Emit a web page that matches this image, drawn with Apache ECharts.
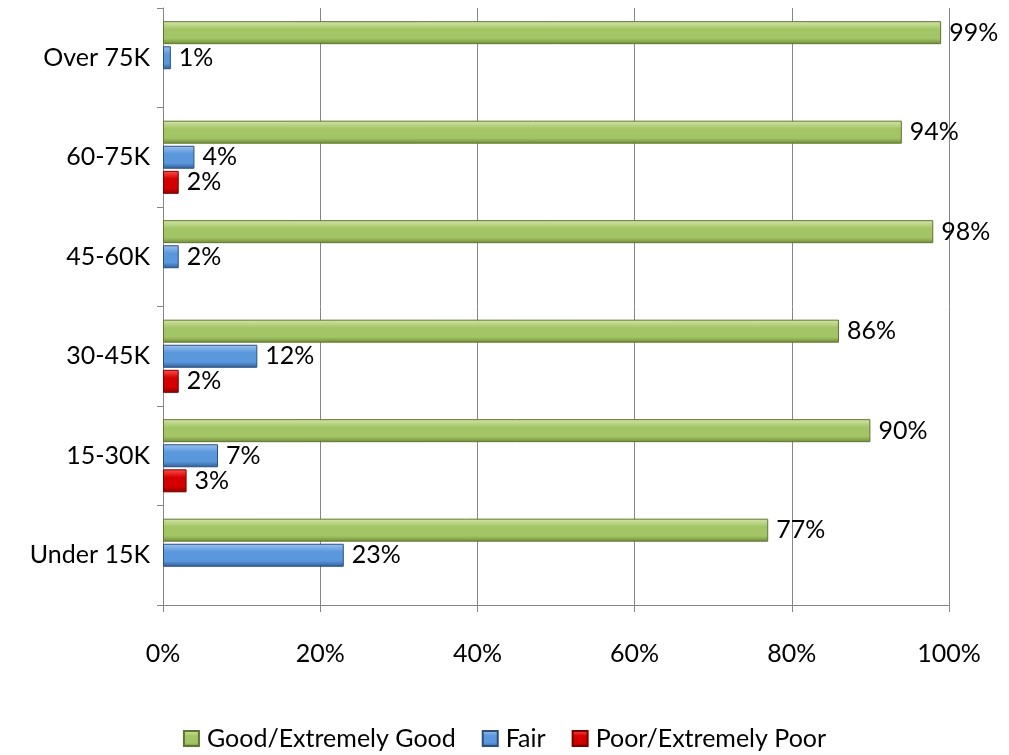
<!DOCTYPE html>
<html><head><meta charset="utf-8">
<script src="https://cdn.jsdelivr.net/npm/echarts@6/dist/echarts.min.js"></script>
<style>html,body{margin:0;padding:0;background:#fff}#c{width:1009px;height:755px}</style>
</head><body><div id="c"></div>
<script>
const categories = ['Under 15K', '15-30K', '30-45K', '45-60K', '60-75K', 'Over 75K'];
const goodValues = [77, 90, 86, 98, 94, 99];
const fairValues = [23, 7, 12, 2, 4, 1];
const poorValues = [null, 3, 2, null, 2, null];
const xTicks = [0, 20, 40, 60, 80, 100];

const FONT = 'Lato, "Open Sans", sans-serif';
const FS = 25;
function grad(top, mid, bot) {
  return new echarts.graphic.LinearGradient(0, 0, 0, 1, [
    {offset: 0, color: top}, {offset: 0.35, color: mid}, {offset: 0.75, color: mid}, {offset: 1, color: bot}
  ]);
}
const label = {show: true, position: 'right', distance: 8, formatter: p => p.value + '%', fontSize: FS, color: '#000', fontFamily: FONT};
const chart = echarts.init(document.getElementById('c'));
chart.setOption({
  animation: false,
  grid: {left: 163, right: 60, top: 8, bottom: 150, containLabel: false},
  legend: {
    top: 721, left: 'center', itemWidth: 15, itemHeight: 15, itemGap: 26, icon: 'rect',
    textStyle: {fontSize: 25, fontFamily: FONT, color: '#000', padding: [0, 0, 0, 3]},
    data: ['Good/Extremely Good', 'Fair', 'Poor/Extremely Poor']
  },
  xAxis: {
    type: 'value', min: 0, max: 100, interval: 20,
    axisLabel: {formatter: v => xTicks.includes(v) ? v + '%' : '', fontSize: FS, fontFamily: FONT, color: '#000', margin: 36},
    axisLine: {show: true, lineStyle: {color: '#868686'}},
    axisTick: {show: true, length: 7, lineStyle: {color: '#868686'}},
    splitLine: {show: true, lineStyle: {color: '#868686', width: 1}}
  },
  yAxis: {
    type: 'category', data: categories,
    axisLabel: {fontSize: FS, fontFamily: FONT, color: '#000', margin: 13},
    axisLine: {show: true, lineStyle: {color: '#868686'}},
    axisTick: {show: true, length: 6, lineStyle: {color: '#868686'}}
  },
  series: [
    {name: 'Good/Extremely Good', type: 'bar', data: goodValues, barWidth: 23, barGap: '9%', barCategoryGap: '27%',
     itemStyle: {color: grad('#d3e6a8', '#a4c566', '#6f8c38'), borderColor: '#5e7630', borderWidth: 1}, label},
    {name: 'Fair', type: 'bar', data: fairValues, barWidth: 23,
     itemStyle: {color: grad('#9cc3f0', '#5b97dc', '#2f5e96'), borderColor: '#2c4f7c', borderWidth: 1}, label},
    {name: 'Poor/Extremely Poor', type: 'bar', data: poorValues, barWidth: 23,
     itemStyle: {color: grad('#ff5050', '#d40000', '#8a0000'), borderColor: '#7a0000', borderWidth: 1}, label}
  ]
});
</script></body></html>
